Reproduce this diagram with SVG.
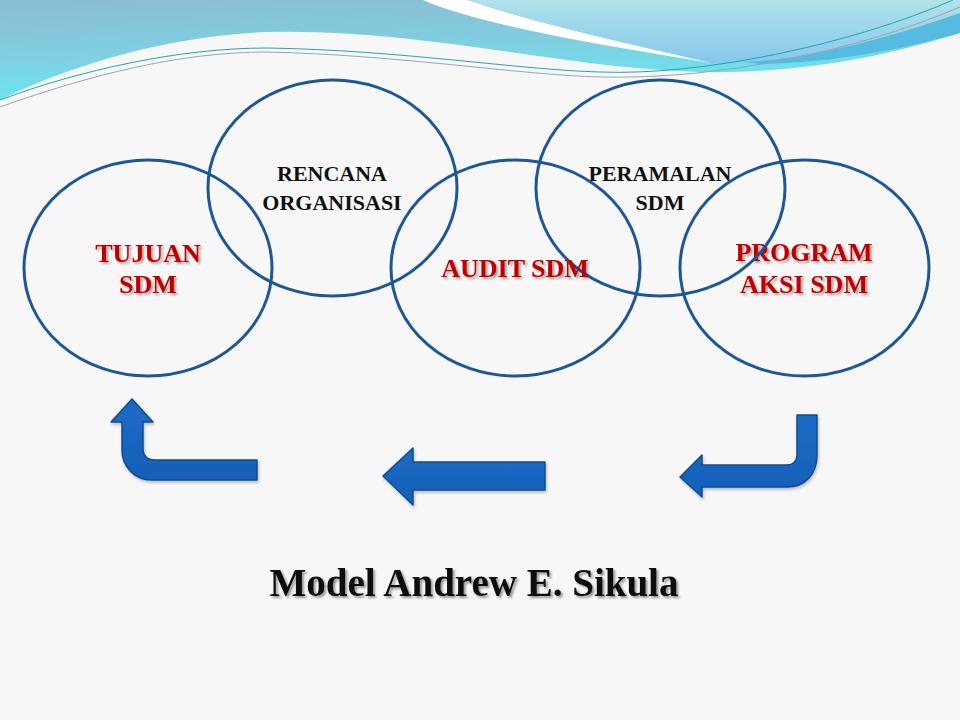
<svg xmlns="http://www.w3.org/2000/svg" width="960" height="720" viewBox="0 0 960 720">
<defs>
<style>
.ring{fill:none;stroke:#1f5796;stroke-width:3}
.lbl{font-family:"Liberation Serif","Times New Roman",serif;font-weight:bold;font-size:22px;fill:#111;text-anchor:middle}
.red{font-family:"Liberation Serif","Times New Roman",serif;font-weight:bold;font-size:26px;fill:#c00000;text-anchor:middle;filter:url(#sh)}
.title{font-family:"Liberation Serif","Times New Roman",serif;font-weight:bold;font-size:39px;fill:#111;text-anchor:middle;filter:url(#sh2)}
.arr{fill:url(#ag);stroke:#0e4c90;stroke-width:1.5;stroke-linejoin:round}
</style>
<filter id="sh" x="-10%" y="-20%" width="130%" height="150%">
<feDropShadow dx="2" dy="2" stdDeviation="1" flood-color="#000" flood-opacity="0.35"/>
</filter>
<filter id="sh2" x="-10%" y="-20%" width="130%" height="150%">
<feDropShadow dx="2" dy="2" stdDeviation="1.2" flood-color="#000" flood-opacity="0.4"/>
</filter>
<filter id="ash" x="-10%" y="-10%" width="130%" height="130%">
<feDropShadow dx="1" dy="2" stdDeviation="1.5" flood-color="#000" flood-opacity="0.25"/>
</filter>
<linearGradient id="ag" x1="0" y1="0" x2="0" y2="1">
<stop offset="0" stop-color="#1c6ac6"/>
<stop offset="1" stop-color="#1660b8"/>
</linearGradient>
<linearGradient id="wl" x1="0" y1="0" x2="0.25" y2="1">
<stop offset="0" stop-color="#8cbcd4"/>
<stop offset="0.55" stop-color="#7fd0e2"/>
<stop offset="1" stop-color="#66e8f2"/>
</linearGradient>
<linearGradient id="wr" x1="0" y1="0" x2="0" y2="1">
<stop offset="0" stop-color="#b0e2ea"/>
<stop offset="1" stop-color="#86c8ec"/>
</linearGradient>
</defs>
<rect width="960" height="720" fill="#f7f7f7"/>
<g id="waves">
<path d="M0,0 H960 V33 C900,52 810,74 700,72 C560,68 420,28 267,32 C160,36 60,70 0,100 Z" fill="url(#wl)"/>
<path d="M423,0 C480,25 600,45 712,63 C650,48 540,25 468,0 Z" fill="#ffffff"/>
<path d="M468,0 H960 V13 C900,36 820,60 745,62 C728,63 718,63 712,63 C650,48 540,25 468,0 Z" fill="url(#wr)"/>
<path d="M745,62 C820,58 900,34 960,13 V33 C900,50 830,63 760,64 Z" fill="#55bbe0"/>
<path d="M0,100 C80,70 180,48 267,48 C400,50 520,70 600,72 C700,76 850,45 953,0" fill="none" stroke="#2aa3ad" stroke-width="1"/>
<path d="M0,107 C90,75 180,52 267,52 C400,55 520,75 600,77 C720,80 860,50 960,7" fill="none" stroke="#9aa6b0" stroke-width="1"/>
</g>
<g id="node-tujuan">
<ellipse class="ring" cx="148" cy="268" rx="124" ry="108"/>
<text class="red" x="148" y="262">TUJUAN</text>
<text class="red" x="148" y="293">SDM</text>
</g>
<g id="node-rencana">
<ellipse class="ring" cx="332.5" cy="188" rx="124.5" ry="108"/>
<text class="lbl" x="332" y="181">RENCANA</text>
<text class="lbl" x="332" y="210">ORGANISASI</text>
</g>
<g id="node-program">
<ellipse class="ring" cx="804.5" cy="268" rx="124.5" ry="108"/>
<text class="red" x="804" y="261">PROGRAM</text>
<text class="red" x="804" y="293">AKSI SDM</text>
</g>
<g id="node-peramalan">
<ellipse class="ring" cx="660.5" cy="188" rx="124.5" ry="108"/>
<text class="lbl" x="660" y="181">PERAMALAN</text>
<text class="lbl" x="660" y="210">SDM</text>
</g>
<g id="node-audit">
<ellipse class="ring" cx="515.5" cy="268" rx="124.5" ry="108"/>
<text class="red" x="515" y="277">AUDIT SDM</text>
</g>
<g id="connectors" filter="url(#ash)">
<path class="arr" d="M132,399 L153,422 L143,422 L143,448 Q143,460 155,460 L257,460 L257,480 L152,480 C135,480 122,467 122,450 L122,422 L111,422 Z"/>
<path class="arr" d="M383,476 L413,448 L413,462 L545,462 L545,490 L413,490 L413,505 Z"/>
<path class="arr" d="M797,415 L817,415 L817,455 C817,474 805,487 787,487 L702,487 L702,497 L680,477 L702,455 L702,465 L787,465 C793,465 797,461 797,455 Z"/>
</g>
<text id="title" class="title" x="474" y="596">Model Andrew E. Sikula</text>
</svg>
